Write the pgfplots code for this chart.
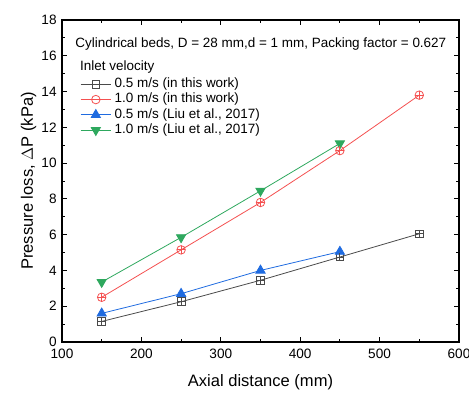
\documentclass[border=0pt]{standalone}
\usepackage{pgfplots}
\pgfplotsset{compat=1.18}
\usepackage{fontspec}
\setmainfont{Liberation Sans}
\definecolor{cblack}{HTML}{4A4A4A}
\definecolor{cred}{HTML}{F45050}
\definecolor{cblue}{HTML}{1F6BE0}
\definecolor{cgreen}{HTML}{2EA85E}
\begin{document}
\begin{tikzpicture}
\path[use as bounding box] (-46.5pt,-38.25pt) rectangle (305.25pt,256.5pt);
\begin{axis}[
  at={(0,0)}, anchor=south west,
  scale only axis,
  width=297.75pt, height=241.5pt,
  xmin=100, xmax=600, ymin=0, ymax=18,
  xtick={100,200,...,600}, ytick={0,2,...,18},
  minor x tick num=1, minor y tick num=1,
  tick align=inside,
  major tick length=4pt, minor tick length=2.3pt,
  every tick/.style={black, line width=0.7pt},
  axis line style={line width=0.9pt},
  tick label style={font=\fontsize{10.2}{12}\selectfont},
  xticklabel style={yshift=-2pt},
  yticklabel style={xshift=-0.5pt},
  /pgf/number format/assume math mode=true,
  xlabel={Axial distance (mm)},
  ylabel={Pressure loss, $\Delta$P (kPa)},
  label style={font=\fontsize{12.4}{14}\selectfont},
  xlabel style={at={(axis description cs:0.5,-0.124)}, anchor=center},
  ylabel style={at={(axis description cs:-0.084,0.5)}, anchor=center},
  legend style={draw=none, fill=none, at={(rel axis cs:0.0453,0.8197)}, anchor=north west,
    font=\fontsize{10.1}{12}\selectfont, row sep=2.45pt, column sep=2.5pt, inner sep=0pt,
    nodes={inner sep=0pt, text height=7pt, text depth=2pt}},
  legend cell align=left,
  legend image code/.code={\draw[mark repeat=2,mark phase=2] plot coordinates {(0cm,0cm) (0.4cm,0cm) (0.8cm,0cm)};},
]
\addplot[cblack, line width=0.6pt, mark=square, mark size=2.9pt, mark options={solid, cblack, line width=0.6pt}]
  coordinates {(150,1.15) (250,2.25) (350,3.45) (450,4.75) (550,6.05)};
\addlegendentry{0.5 m/s (in this work)}
\addplot[cred, line width=0.6pt, mark=o, mark size=3.2pt, mark options={solid, fill=white, line width=0.6pt}]
  coordinates {(150,2.5) (250,5.15) (350,7.8) (450,10.7) (550,13.8)};
\addlegendentry{1.0 m/s (in this work)}
\addplot[cblue, line width=0.6pt, mark=triangle*, mark size=4pt, mark options={solid, fill=cblue}]
  coordinates {(150,1.6) (250,2.7) (350,4.0) (450,5.05)};
\addlegendentry{0.5 m/s (Liu et al., 2017)}
\addplot[cgreen, line width=0.6pt, mark=triangle*, mark size=4pt, mark options={solid, fill=cgreen, rotate=180}]
  coordinates {(150,3.35) (250,5.85) (350,8.45) (450,11.1)};
\addlegendentry{1.0 m/s (Liu et al., 2017)}
\addplot[cblack, only marks, mark=+, mark size=2.9pt, mark options={line width=0.6pt}, forget plot]
  coordinates {(150,1.15) (250,2.25) (350,3.45) (450,4.75) (550,6.05)};
\addplot[cred, only marks, mark=+, mark size=3.2pt, mark options={line width=0.6pt}, forget plot]
  coordinates {(150,2.5) (250,5.15) (350,7.8) (450,10.7) (550,13.8)};
\node[anchor=west, font=\fontsize{10.1}{12}\selectfont, inner sep=0pt] at (rel axis cs:0.033,0.925) {Cylindrical beds, D = 28 mm,d = 1 mm, Packing factor = 0.627};
\node[anchor=west, font=\fontsize{10.1}{12}\selectfont, inner sep=0pt] at (rel axis cs:0.0453,0.855) {Inlet velocity};
\end{axis}
\end{tikzpicture}
\end{document}
